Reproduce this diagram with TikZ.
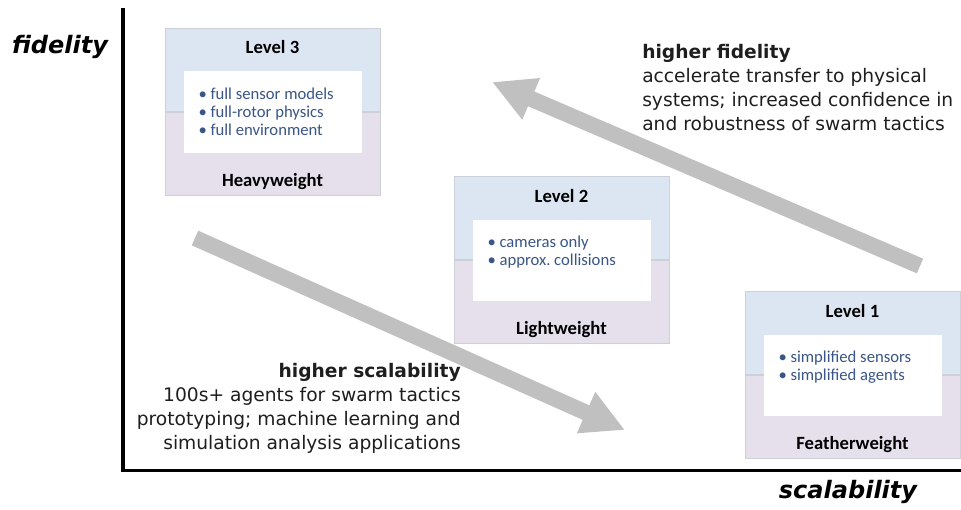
\documentclass[tikz,border=0pt]{standalone}
\usepackage{xcolor}
\usepackage{fontspec}
\setmainfont{DejaVu Sans}
\newfontfamily\boxfont{Carlito}
\usepackage{tikz}
\usetikzlibrary{arrows.meta, positioning}
\definecolor{lvlblue}{RGB}{220,230,242}
\definecolor{lvlpurple}{RGB}{229,224,236}
\definecolor{lvledge}{RGB}{205,208,214}
\definecolor{itemblue}{RGB}{58,86,135}
\definecolor{arrowgray}{RGB}{192,192,192}
\definecolor{notegray}{RGB}{30,30,30}

\begin{document}
\begin{tikzpicture}[x=0.75pt, y=-0.75pt,
  lvlupper/.style={draw=lvledge, fill=lvlblue, minimum width=161.25pt, minimum height=62.6pt, inner sep=0pt, anchor=south},
  lvllower/.style={draw=lvledge, fill=lvlpurple, minimum width=161.25pt, minimum height=62.6pt, inner sep=0pt, anchor=north},
  panel/.style={fill=white, minimum width=133.5pt, minimum height=60.75pt, inner sep=0pt},
  items/.style={anchor=north west, inner sep=0pt, align=left, text=itemblue, font=\boxfont\fontsize{12.5}{13.5}\selectfont},
  lvltitle/.style={anchor=base, inner sep=0pt, font=\boxfont\bfseries\fontsize{14}{16}\selectfont},
  sidenote/.style={inner sep=0pt, text=notegray, font=\fontsize{14}{18}\selectfont},
  axislabel/.style={inner sep=0pt, font=\bfseries\itshape\fontsize{18}{20}\selectfont},
  fatarrow/.style={draw=arrowgray, line width=12pt, -{Triangle[length=32pt, width=31.5pt]}}]
\useasboundingbox (0,0) rectangle (961,510);

% axes
\coordinate (ytop) at (123,8);
\coordinate (xend) at (961,470.5);
\draw[line width=2.4pt] (ytop) |- (xend);
\node[axislabel] (fid) at (60,47) {fidelity};
\node[axislabel] (scal) at (848,492) {scalability};

% big arrows (behind the boxes)
\coordinate (scaletail) at (195,238);
\coordinate (scaletip) at (625,430);
\coordinate (fidtail) at (920,266);
\coordinate (fidtip) at (492,82);
\draw[fatarrow] (scaletail) -- (scaletip);
\draw[fatarrow] (fidtail) -- (fidtip);

% level 3
\node[lvlupper] (l3top) at (272.5,112) {};
\node[lvllower] (l3bot) at (272.5,112) {};
\node[panel] (l3white) at (272.5,112) {};
\node[lvltitle] (l3title) at ([yshift=-19.5pt]l3top.north) {Level 3};
\node[lvltitle] (l3name) at ([yshift=7.5pt]l3bot.south) {Heavyweight};
\node[items] (l3items) at ([xshift=11.25pt, yshift=-12pt]l3white.north west)
{\textbullet\ full sensor models\\ \textbullet\ full-rotor physics\\ \textbullet\ full environment};

% level 2
\node[lvlupper] (l2top) at (561.5,260) {};
\node[lvllower] (l2bot) at (561.5,260) {};
\node[panel] (l2white) at (561.5,260) {};
\node[lvltitle] (l2title) at ([yshift=-19.5pt]l2top.north) {Level 2};
\node[lvltitle] (l2name) at ([yshift=7.5pt]l2bot.south) {Lightweight};
\node[items] (l2items) at ([xshift=11.25pt, yshift=-12pt]l2white.north west)
{\textbullet\ cameras only\\ \textbullet\ approx.\ collisions};

% level 1
\node[lvlupper] (l1top) at (852.5,375) {};
\node[lvllower] (l1bot) at (852.5,375) {};
\node[panel] (l1white) at (852.5,375) {};
\node[lvltitle] (l1title) at ([yshift=-19.5pt]l1top.north) {Level 1};
\node[lvltitle] (l1name) at ([yshift=7.5pt]l1bot.south) {Featherweight};
\node[items] (l1items) at ([xshift=11.25pt, yshift=-12pt]l1white.north west)
{\textbullet\ simplified sensors\\ \textbullet\ simplified agents};

% notes
\node[sidenote, anchor=north west, align=left] (fidnote) at (642,44)
{\textbf{higher fidelity}\\ accelerate transfer to physical\\ systems; increased confidence in\\ and robustness of swarm tactics};
\node[sidenote, anchor=north east, align=right] (scalnote) at (461,363)
{\textbf{higher scalability}\\ 100s+ agents for swarm tactics\\ prototyping; machine learning and\\ simulation analysis applications};
\end{tikzpicture}
\end{document}
